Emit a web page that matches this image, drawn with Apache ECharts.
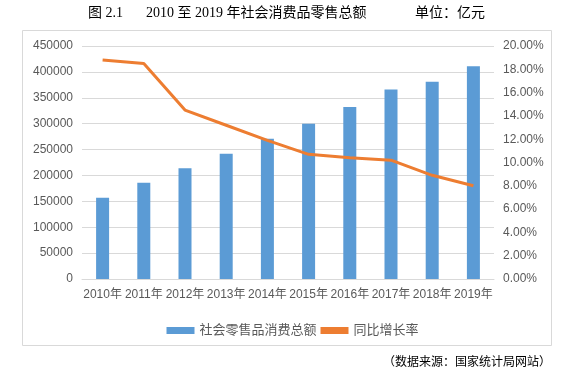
<!DOCTYPE html>
<html>
<head>
<meta charset="utf-8">
<script src="https://cdn.jsdelivr.net/npm/echarts@6/dist/echarts.min.js"></script>
<style>html,body{margin:0;padding:0;background:#fff;}#c{width:585px;height:376px;}</style>
</head>
<body>
<div id="c"></div>
<script>
var categories = ['2010年','2011年','2012年','2013年','2014年','2015年','2016年','2017年','2018年','2019年'];
var salesTotal = [157000, 186000, 214000, 242000, 271000, 300000, 332000, 366000, 381000, 411000];
var growthRate = [0.188, 0.185, 0.145, 0.132, 0.119, 0.107, 0.104, 0.102, 0.089, 0.080];
var seriesNames = ['社会零售品消费总额', '同比增长率'];

var chart = echarts.init(document.getElementById('c'), null, {renderer: 'canvas'});
var cjk = '"Liberation Sans", "Noto Sans CJK SC", sans-serif';
var serif = '"Liberation Serif", "Noto Sans CJK SC", serif';
chart.setOption({
  animation: false,
  backgroundColor: '#fff',
  graphic: [
    {type: 'rect', shape: {x: 22.5, y: 30.5, width: 529, height: 315}, style: {fill: 'none', stroke: '#D9D9D9', lineWidth: 1}},
    {type: 'text', left: 88, top: 6, style: {text: '图 2.1', font: '14px ' + serif, fill: '#000'}},
    {type: 'text', left: 146, top: 6, style: {text: '2010 至 2019 年社会消费品零售总额', font: '14px ' + serif, fill: '#000'}},
    {type: 'text', left: 415, top: 6, style: {text: '单位：亿元', font: '14px ' + serif, fill: '#000'}},
    {type: 'text', left: 383, top: 357, style: {text: '（数据来源：国家统计局网站）', font: '12px ' + serif, fill: '#000'}}
  ],
  grid: {left: 82, right: 91, top: 46, bottom: 97, containLabel: false},
  legend: {
    data: [seriesNames[0], seriesNames[1]],
    left: 'center',
    top: 319,
    itemWidth: 28,
    itemHeight: 7,
    itemGap: 4,
    textStyle: {fontSize: 13, color: '#595959', fontFamily: cjk},
    icon: 'rect'
  },
  xAxis: {
    type: 'category',
    data: categories,
    axisLine: {lineStyle: {color: '#D9D9D9'}},
    axisTick: {show: false},
    axisLabel: {interval: 0, color: '#595959', fontSize: 12, fontFamily: cjk, margin: 10}
  },
  yAxis: [
    {
      type: 'value', min: 0, max: 450000, interval: 50000,
      axisLine: {show: false}, axisTick: {show: false},
      axisLabel: {color: '#595959', fontSize: 12, fontFamily: cjk, margin: 9,
        formatter: function (v) { return String(v); }},
      splitLine: {lineStyle: {color: '#D9D9D9'}}
    },
    {
      type: 'value', min: 0, max: 0.2, interval: 0.02,
      axisLine: {show: false}, axisTick: {show: false},
      axisLabel: {color: '#595959', fontSize: 12, fontFamily: cjk, margin: 9,
        formatter: function (v) { return (v * 100).toFixed(2) + '%'; }},
      splitLine: {show: false}
    }
  ],
  series: [
    {
      name: seriesNames[0], type: 'bar', data: salesTotal, yAxisIndex: 0,
      barWidth: 13, itemStyle: {color: '#5B9BD5'}
    },
    {
      name: seriesNames[1], type: 'line', data: growthRate, yAxisIndex: 1,
      symbol: 'none', lineStyle: {color: '#ED7D31', width: 3}, itemStyle: {color: '#ED7D31'}
    }
  ]
});
</script>
</body>
</html>
